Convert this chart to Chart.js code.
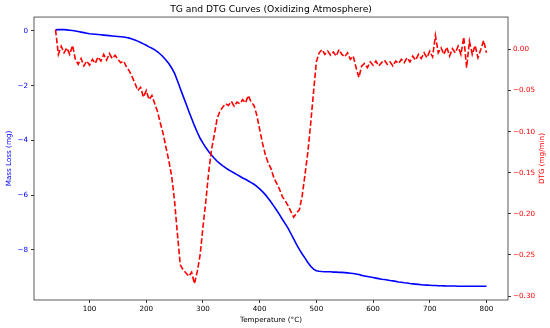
<!DOCTYPE html>
<html>
<head>
<meta charset="utf-8">
<title>TG and DTG Curves</title>
<script src="https://cdn.jsdelivr.net/npm/chart.js@4.4.1/dist/chart.umd.min.js"></script>
<style>
    html, body { margin: 0; padding: 0; background: #fff; }
    #chartBox { width: 550px; height: 328px; }
</style>
</head>
<body>
<div id="chartBox"><canvas id="tgChart" width="550" height="328"></canvas></div>
<script>
// --- Data ---

// Temperature (°C), one sample every 5 degrees
const temperatures = [
    40, 45, 50, 55, 60, 65, 70, 75, 80, 85,
    90, 95, 100, 105, 110, 115, 120, 125, 130, 135,
    140, 145, 150, 155, 160, 165, 170, 175, 180, 185,
    190, 195, 200, 205, 210, 215, 220, 225, 230, 235,
    240, 245, 250, 255, 260, 265, 270, 275, 280, 285,
    290, 295, 300, 305, 310, 315, 320, 325, 330, 335,
    340, 345, 350, 355, 360, 365, 370, 375, 380, 385,
    390, 395, 400, 405, 410, 415, 420, 425, 430, 435,
    440, 445, 450, 455, 460, 465, 470, 475, 480, 485,
    490, 495, 500, 505, 510, 515, 520, 525, 530, 535,
    540, 545, 550, 555, 560, 565, 570, 575, 580, 585,
    590, 595, 600, 605, 610, 615, 620, 625, 630, 635,
    640, 645, 650, 655, 660, 665, 670, 675, 680, 685,
    690, 695, 700, 705, 710, 715, 720, 725, 730, 735,
    740, 745, 750, 755, 760, 765, 770, 775, 780, 785,
    790, 795, 800
];

// TG: mass loss (mg)
const massLoss = [
    0.04, 0.05, 0.05, 0.05, 0.04, 0.03, 0.02, 0.00, -0.02, -0.04,
    -0.06, -0.08, -0.10, -0.11, -0.12, -0.13, -0.14, -0.15, -0.16, -0.17,
    -0.18, -0.19, -0.20, -0.21, -0.22, -0.24, -0.26, -0.29, -0.33, -0.37,
    -0.42, -0.47, -0.52, -0.58, -0.63, -0.69, -0.76, -0.85, -0.95, -1.07,
    -1.20, -1.36, -1.55, -1.82, -2.10, -2.38, -2.65, -2.93, -3.20, -3.46,
    -3.70, -3.92, -4.10, -4.26, -4.40, -4.53, -4.65, -4.76, -4.85, -4.93,
    -5.00, -5.07, -5.13, -5.19, -5.25, -5.31, -5.37, -5.42, -5.48, -5.54,
    -5.60, -5.68, -5.77, -5.87, -5.98, -6.11, -6.25, -6.40, -6.55, -6.71,
    -6.88, -7.04, -7.20, -7.40, -7.60, -7.80, -7.98, -8.15, -8.30, -8.46,
    -8.60, -8.70, -8.76, -8.78, -8.79, -8.795, -8.80, -8.80, -8.81, -8.81,
    -8.82, -8.82, -8.83, -8.84, -8.85, -8.86, -8.88, -8.90, -8.93, -8.95,
    -8.97, -8.99, -9.01, -9.03, -9.05, -9.07, -9.08, -9.10, -9.12, -9.13,
    -9.15, -9.17, -9.18, -9.20, -9.21, -9.23, -9.24, -9.25, -9.26, -9.27,
    -9.28, -9.285, -9.29, -9.30, -9.30, -9.31, -9.31, -9.315, -9.32, -9.32,
    -9.32, -9.32, -9.325, -9.325, -9.33, -9.33, -9.33, -9.33, -9.33, -9.33,
    -9.33, -9.33, -9.33
];

// DTG (mg/min), noisy
const dtgValues = [
    0.024, -0.006, 0.004, -0.004, 0.002, -0.006, 0.005, -0.012, -0.018, -0.011,
    -0.020, -0.014, -0.019, -0.012, -0.017, -0.009, -0.014, -0.006, -0.013, -0.005,
    -0.011, -0.007, -0.012, -0.016, -0.014, -0.021, -0.026, -0.033, -0.041, -0.050,
    -0.046, -0.058, -0.050, -0.061, -0.056, -0.066, -0.076, -0.090, -0.103, -0.120,
    -0.136, -0.155, -0.185, -0.225, -0.262, -0.268, -0.272, -0.276, -0.271, -0.285,
    -0.270, -0.250, -0.216, -0.185, -0.150, -0.122, -0.104, -0.084, -0.075, -0.070,
    -0.066, -0.068, -0.063, -0.069, -0.064, -0.066, -0.061, -0.065, -0.056, -0.064,
    -0.068, -0.080, -0.097, -0.114, -0.128, -0.138, -0.145, -0.156, -0.163, -0.170,
    -0.179, -0.184, -0.190, -0.197, -0.204, -0.199, -0.195, -0.178, -0.152, -0.125,
    -0.090, -0.052, -0.015, -0.004, 0.000, -0.006, -0.002, -0.007, -0.003, -0.008,
    0.000, -0.006, -0.009, -0.004, -0.012, -0.008, -0.022, -0.034, -0.020, -0.017,
    -0.022, -0.015, -0.019, -0.014, -0.020, -0.016, -0.013, -0.018, -0.015, -0.020,
    -0.014, -0.017, -0.012, -0.016, -0.010, -0.015, -0.008, -0.013, -0.006, -0.011,
    -0.004, -0.010, -0.002, -0.009, 0.017, -0.004, 0.002, -0.006, 0.003, -0.008,
    0.001, -0.004, 0.004, -0.006, 0.015, -0.022, 0.010, -0.006, 0.005, -0.010,
    0.000, 0.011, -0.004
];

// Tick labels
const tempTicks = [100, 200, 300, 400, 500, 600, 700, 800];
const massTicks = [-8, -6, -4, -2, 0];
const dtgTicks = [-0.30, -0.25, -0.20, -0.15, -0.10, -0.05, 0.00];

// --- Helpers ---

const FONT = '"DejaVu Sans", "Liberation Sans", sans-serif';
const SMALL = 7.2; // tick + axis label size

// matplotlib prints a real minus sign
function minusSign(text) {
    return String(text).replace('-', '\u2212');
}

function toPoints(xs, ys) {
    return xs.map((x, i) => ({ x: x, y: ys[i] }));
}

function fixedTicks(list) {
    return function(axis) {
        axis.ticks = list.map(v => ({ value: v }));
    };
}

// Box around the plot + right axis label reading bottom-to-top
const frameAndLabelPlugin = {
    id: 'frameAndLabel',
    afterDraw(chart) {
        const { ctx, chartArea } = chart;
        ctx.save();
        ctx.strokeStyle = '#333';
        ctx.lineWidth = 0.8;
        ctx.strokeRect(chartArea.left, chartArea.top,
            chartArea.right - chartArea.left, chartArea.bottom - chartArea.top);

        ctx.translate(chart.width - 8, (chartArea.top + chartArea.bottom) / 2);
        ctx.rotate(-Math.PI / 2);
        ctx.fillStyle = '#ff0000';
        ctx.font = SMALL + 'px ' + FONT;
        ctx.textAlign = 'center';
        ctx.textBaseline = 'middle';
        ctx.fillText('DTG (mg/min)', 0, 0);
        ctx.restore();
    }
};

document.addEventListener('DOMContentLoaded', function() {
    createTgChart();
});

function createTgChart() {
    const ctx = document.getElementById('tgChart');
    if (!ctx) return;

    const tickGrid = {
        display: true,
        drawOnChartArea: false,
        drawTicks: true,
        tickLength: 3,
        color: '#000',
        lineWidth: 0.8
    };

    new Chart(ctx, {
        type: 'line',
        data: {
            datasets: [
                {
                    label: 'TG',
                    data: toPoints(temperatures, massLoss),
                    yAxisID: 'yMass',
                    borderColor: '#0000ff',
                    borderWidth: 1.6,
                    pointRadius: 0,
                    tension: 0,
                    order: 1
                },
                {
                    label: 'DTG',
                    data: toPoints(temperatures, dtgValues),
                    yAxisID: 'yDtg',
                    borderColor: '#ff0000',
                    borderWidth: 1.6,
                    borderDash: [5.6, 2.4],
                    pointRadius: 0,
                    tension: 0,
                    order: 0
                }
            ]
        },
        options: {
            responsive: false,
            animation: false,
            layout: { padding: 0 },
            plugins: {
                legend: { display: false },
                tooltip: { enabled: false },
                title: {
                    display: true,
                    text: 'TG and DTG Curves (Oxidizing Atmosphere)',
                    fullSize: false,
                    color: '#000',
                    font: { family: FONT, size: 9.2, weight: 'normal' },
                    padding: { top: 4, bottom: 2 }
                }
            },
            scales: {
                x: {
                    type: 'linear',
                    min: 2,
                    max: 838,
                    afterBuildTicks: fixedTicks(tempTicks),
                    afterFit: (scale) => { scale.height = 28; },
                    grid: tickGrid,
                    border: { display: false },
                    ticks: {
                        color: '#000',
                        padding: 2,
                        autoSkip: false,
                        maxRotation: 0,
                        font: { family: FONT, size: SMALL }
                    },
                    title: {
                        display: true,
                        text: 'Temperature (\u00B0C)',
                        color: '#000',
                        font: { family: FONT, size: SMALL },
                        padding: { top: 2, bottom: 4 }
                    }
                },
                yMass: {
                    type: 'linear',
                    position: 'left',
                    min: -9.83,
                    max: 0.51,
                    afterBuildTicks: fixedTicks(massTicks),
                    afterFit: (scale) => { scale.width = 34; },
                    grid: tickGrid,
                    border: { display: false },
                    ticks: {
                        color: '#0000ff',
                        padding: 3,
                        font: { family: FONT, size: SMALL },
                        callback: (value) => minusSign(value)
                    },
                    title: {
                        display: true,
                        text: 'Mass Loss (mg)',
                        color: '#0000ff',
                        font: { family: FONT, size: SMALL },
                        padding: { top: 5, bottom: 2 }
                    }
                },
                yDtg: {
                    type: 'linear',
                    position: 'right',
                    min: -0.3048,
                    max: 0.0395,
                    afterBuildTicks: fixedTicks(dtgTicks),
                    afterFit: (scale) => { scale.width = 42; },
                    grid: tickGrid,
                    border: { display: false },
                    ticks: {
                        color: '#ff0000',
                        padding: 2,
                        font: { family: FONT, size: SMALL },
                        callback: (value) => minusSign(Number(value).toFixed(2))
                    }
                }
            }
        },
        plugins: [frameAndLabelPlugin]
    });
}
</script>
</body>
</html>
